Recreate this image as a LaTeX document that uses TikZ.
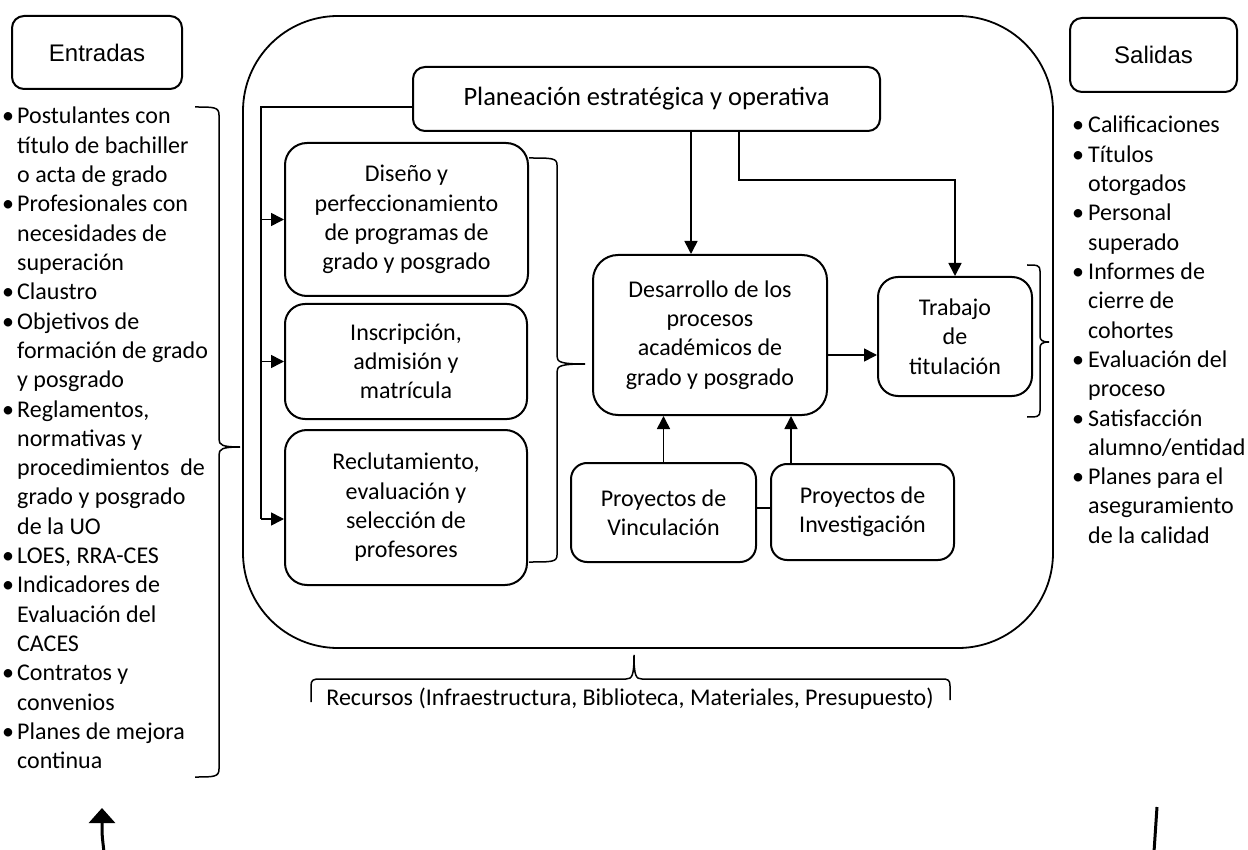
\documentclass[tikz,border=0pt]{standalone}
\usepackage{fontspec}
\setmainfont{Carlito}
\newfontfamily\arialfont{Liberation Sans}
\usetikzlibrary{arrows.meta}

\tikzset{
  txt/.style={font=\fontsize{24}{29.3}\selectfont},
  box/.style={draw, line width=2pt, align=center, inner sep=0pt, txt},
  tagbox/.style={draw, line width=2pt, rounded corners=12pt, inner sep=0pt,
                 font=\arialfont\fontsize{24}{28}\selectfont},
  link/.style={line width=1.6pt},
  arr/.style={link, -{Triangle[length=13pt,width=13pt]}},
  brace/.style={line width=1.5pt},
  item/.style={anchor=base west, inner sep=0pt, txt},
}

\begin{document}
\begin{tikzpicture}[x=1pt,y=-1pt]
\useasboundingbox (0,0) rectangle (1248,850);

% ---- inputs and outputs headings
\node[tagbox, minimum width=170pt, minimum height=73pt] (entradas) at (97,52.5) {Entradas};
\node[tagbox, minimum width=167pt, minimum height=74pt] (salidas) at (1153.5,55) {Salidas};

% ---- input list
\foreach \b/\t [count=\i from 0] in {
  1/Postulantes con, 0/título de bachiller, 0/o acta de grado,
  1/Profesionales con, 0/necesidades de, 0/superación,
  1/Claustro,
  1/Objetivos de, 0/formación de grado, 0/y posgrado,
  1/{Reglamentos,}, 0/normativas y, 0/procedimientos~ de, 0/grado y posgrado, 0/de la UO,
  1/{LOES, RRA-CES},
  1/Indicadores de, 0/Evaluación del, 0/CACES,
  1/Contratos y, 0/convenios,
  1/Planes de mejora, 0/continua} {
  \node[item] (inL\i) at (17,{124+29.3*\i}) {\t};
  \ifnum\b=1 \node[item] (inB\i) at (2,{124+29.3*\i}) {•};\fi
}

% ---- output list
\foreach \b/\t [count=\i from 0] in {
  1/Calificaciones,
  1/Títulos, 0/otorgados,
  1/Personal, 0/superado,
  1/Informes de, 0/cierre de, 0/cohortes,
  1/Evaluación del, 0/proceso,
  1/Satisfacción, 0/{alumno/entidad},
  1/Planes para el, 0/aseguramiento, 0/de la calidad} {
  \node[item] (outL\i) at (1088,{133+29.3*\i}) {\t};
  \ifnum\b=1 \node[item] (outB\i) at (1072,{133+29.3*\i}) {•};\fi
}

% ---- process frame
\node[draw, line width=1.8pt, rounded corners=95pt, minimum width=810pt,
      minimum height=632pt, inner sep=0pt] (sys) at (648,332) {};

% ---- process boxes
\node[box, rounded corners=12pt, minimum width=467pt, minimum height=64pt,
      font=\fontsize{26.5}{30}\selectfont] (plan) at (646.5,99) {Planeación estratégica y operativa};
\node[box, rounded corners=22pt, minimum width=243pt, minimum height=153pt] (dis) at (406.5,219.5)
  {Diseño y\\perfeccionamiento\\de programas de\\grado y posgrado};
\node[box, rounded corners=20pt, minimum width=242pt, minimum height=115pt] (ins) at (406,361.5)
  {Inscripción,\\admisión y\\matrícula};
\node[box, rounded corners=22pt, minimum width=242pt, minimum height=155pt] (rec) at (406,507.5)
  {Reclutamiento,\\evaluación y\\selección de\\profesores};
\node[box, rounded corners=25pt, minimum width=234pt, minimum height=160pt] (des) at (710,335)
  {Desarrollo de los\\procesos\\académicos de\\grado y posgrado};
\node[box, rounded corners=20pt, minimum width=154pt, minimum height=119pt] (trab) at (955,336.5)
  {Trabajo\\de\\titulación};
\node[box, rounded corners=16pt, minimum width=185pt, minimum height=99pt] (vin) at (663.5,512.5)
  {Proyectos de\\Vinculación};
\node[box, rounded corners=16pt, minimum width=183pt, minimum height=96pt] (inv) at (862.5,512)
  {Proyectos de\\Investigación};

% ---- resources
\node[item, anchor=base] (rec-txt) at (630,705)
  {Recursos (Infraestructura, Biblioteca, Materiales, Presupuesto)};

% ---- connectors from planning
\coordinate (trunk) at (261,107);
\coordinate (trunkEnd) at (261,519);
\draw[link] (plan.west |- trunk) -- (trunk) -- (trunkEnd);
\draw[arr] (trunk |- dis.west) -- (dis.west);
\draw[arr] (trunk |- ins.west) -- (ins.west);
\draw[arr] (trunkEnd) -- (rec.west |- trunkEnd);

\coordinate (colA) at (691,0);
\draw[arr] (plan.south -| colA) -- (des.north -| colA);
\coordinate (elb) at (739,180);
\draw[arr] (plan.south -| elb) -- (elb) -| (trab.north);

\coordinate (rowA) at (0,355);
\draw[arr] (des.east |- rowA) -- (trab.west |- rowA);

\draw[arr] (vin.north) -- (vin.north |- des.south);
\coordinate (colB) at (791,0);
\draw[arr] (inv.north -| colB) -- (des.south -| colB);
\coordinate (rowB) at (0,508);
\draw[link] (vin.east |- rowB) -- (inv.west |- rowB);

% ---- braces
% inputs
\draw[brace] (195,107) .. controls (214,107) and (219,107) .. (219,115) -- (219,439)
  .. controls (219,445) and (222,447) .. (240,447)
  .. controls (222,447) and (219,449) .. (219,455) -- (219,769)
  .. controls (219,777) and (214,777) .. (195,777);
% sub-processes
\draw[brace] (529,158) .. controls (552,158) and (557,158) .. (557,165) -- (557,356)
  .. controls (557,362) and (560,364) .. (585,364)
  .. controls (560,364) and (557,366) .. (557,372) -- (557,555)
  .. controls (557,562) and (552,562) .. (529,562);
% degree work
\draw[brace] (1027,265) .. controls (1037,265) and (1040,265) .. (1040,271) -- (1040,336)
  .. controls (1040,340) and (1042,342) .. (1049,342)
  .. controls (1042,342) and (1040,344) .. (1040,348) -- (1040,411)
  .. controls (1040,417) and (1037,417) .. (1027,417);
% resources
\draw[brace] (311,702) -- (311,686) .. controls (311,680) and (313,679) .. (320,679) -- (626,679)
  .. controls (632,679) and (634,676) .. (634,655)
  .. controls (634,676) and (636,679) .. (642,679) -- (942,679)
  .. controls (948,679) and (950,680) .. (950,686) -- (950,700);

% ---- feedback loop ends
\coordinate (fbStart) at (1154,852);
\coordinate (fbTop) at (1157,807);
\draw[line width=3pt] (fbStart) -- (fbTop);
\coordinate (fbIn) at (104,852);
\coordinate (fbTip) at (102,808);
\draw[line width=3pt, -{Triangle[length=15pt,width=26pt]}] (fbIn) .. controls (102,835) .. (fbTip);
\end{tikzpicture}
\end{document}
